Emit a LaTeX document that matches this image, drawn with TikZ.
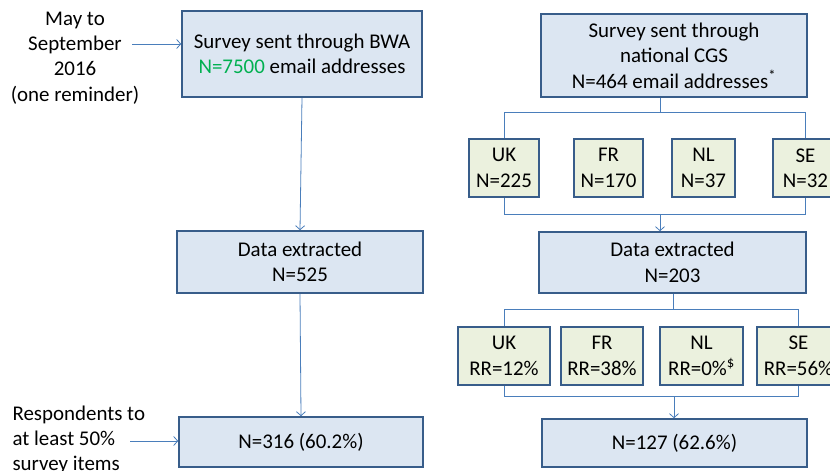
\documentclass[tikz,border=0pt]{standalone}
\usepackage{fontspec}
\setmainfont{Carlito}
\usetikzlibrary{arrows.meta,positioning}
\definecolor{boxFill}{HTML}{DCE6F2}
\definecolor{ctryFill}{HTML}{EBF1DE}
\definecolor{boxLine}{HTML}{385D8A}
\definecolor{linkBlue}{HTML}{4A7EBB}
\definecolor{countGreen}{HTML}{00B050}
\tikzset{
  mainbox/.style={draw=boxLine, fill=boxFill, line width=1.6bp, align=center, inner sep=0pt},
  ctrybox/.style={draw=boxLine, fill=ctryFill, line width=1.6bp, align=center, inner sep=0pt, minimum height=58bp},
  link/.style={draw=linkBlue, line width=0.8bp},
  flow/.style={link, -{Straight Barb[length=4bp, width=9bp]}},
}
\begin{document}
\begin{tikzpicture}[x=1bp, y=-1bp, every node/.style={font=\fontsize{21}{25.5}\selectfont}]
  \clip (0,0) rectangle (830,471);
  \useasboundingbox (0,0) rectangle (830,471);
  % Left column (BWA)
  \node[mainbox, minimum width=240bp, minimum height=86bp] (bwa) at (302,54)
    {Survey sent through BWA\\\textcolor{countGreen}{N=7500} email addresses};
  \node[mainbox, minimum width=246bp, minimum height=62bp] (data1) at (300,262)
    {Data extracted\\N=525};
  \node[mainbox, minimum width=244bp, minimum height=50bp] (res1) at (301,442)
    {N=316 (60.2\%)};
  % Side notes
  \node[align=center] (when) at (75,58) {May to\\September\\2016\\(one reminder)};
  \node[align=left, anchor=west] (resp) at (9,440) {Respondents to\\at least 50\%\\survey items};
  \coordinate (whenend) at (132,44);
  \coordinate (respend) at (130,441);
  % Right column (CGS)
  \node[mainbox, minimum width=266bp, minimum height=83bp] (cgs) at (674,55.5)
    {Survey sent through\\national CGS\\N=464 email addresses\textsuperscript{*}};
  \node[mainbox, minimum width=267bp, minimum height=61bp] (data2) at (672.5,262.5)
    {Data extracted\\N=203};
  \node[mainbox, minimum width=265bp, minimum height=48bp] (res2) at (674.5,443)
    {N=127 (62.6\%)};
  % Countries, sent
  \node[ctrybox, minimum width=70bp] (uk1) at (504,168) {UK\\N=225};
  \node[ctrybox, minimum width=69bp] (fr1) at (608.5,168) {FR\\N=170};
  \node[ctrybox, minimum width=63bp] (nl1) at (703.5,168) {NL\\N=37};
  \node[ctrybox, minimum width=65bp] (se1) at (805.5,168) {SE\\N=32};
  % Countries, response rates
  \node[ctrybox, minimum width=92bp] (uk2) at (504,356) {UK\\RR=12\%};
  \node[ctrybox, minimum width=82bp] (fr2) at (602,356) {FR\\RR=38\%};
  \node[ctrybox, minimum width=83bp] (nl2) at (701.5,356) {NL\\RR=0\%\textsuperscript{\$}};
  \node[ctrybox, minimum width=83bp] (se2) at (798.5,356) {SE\\RR=56\%};
  % Junctions
  \coordinate (split1) at (660,112);
  \coordinate (merge1) at (660,214);
  \coordinate (split2) at (673,309);
  \coordinate (merge2) at (674,396);
  % Connectors
  \draw[flow] (whenend) -- (whenend -| bwa.west);
  \draw[flow] (respend) -- (respend -| res1.west);
  \draw[flow] (bwa.south) -- (data1.north);
  \draw[flow] (data1.south) -- (res1.north);
  \draw[link] (cgs.south -| split1) -- (split1);
  \draw[link] (uk1.north) |- (se1.north |- split1) -- (se1.north);
  \draw[link] (uk1.south) |- (se1.south |- merge1) -- (se1.south);
  \draw[flow] (merge1) -- (data2.north -| merge1);
  \draw[link] (data2.south -| split2) -- (split2);
  \draw[link] (uk2.north) |- (se2.north |- split2) -- (se2.north);
  \draw[link] (uk2.south) |- (se2.south |- merge2) -- (se2.south);
  \draw[flow] (merge2) -- (res2.north -| merge2);
\end{tikzpicture}
\end{document}
